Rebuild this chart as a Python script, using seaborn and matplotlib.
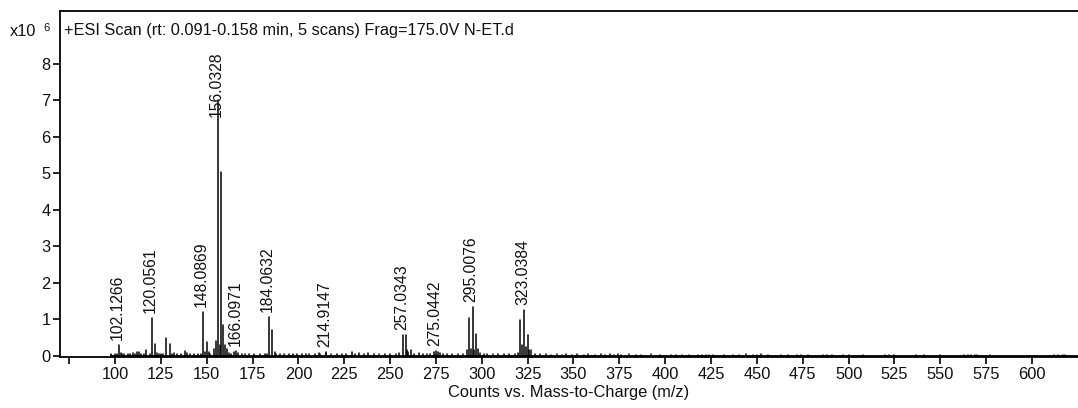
import numpy as np
import pandas as pd
import matplotlib
matplotlib.use("Agg")
import matplotlib.pyplot as plt
import seaborn as sns

# ---------------- data (intensity in x10^6 counts) ----------------
label_mz = [102.1266, 120.0561, 148.0869, 156.0328, 166.0971, 184.0632,
            214.9147, 257.0343, 275.0442, 295.0076, 323.0384]
label_h = [0.29, 1.03, 1.19, 7.00, 0.13, 1.07, 0.12, 0.58, 0.13, 1.35, 1.26]
label_text = ["102.1266", "120.0561", "148.0869", "156.0328", "166.0971",
              "184.0632", "214.9147", "257.0343", "275.0442", "295.0076",
              "323.0384"]

major_mz = [121.6, 128.0, 130.0, 150.0, 155.0, 157.0, 157.9, 159.0, 160.0,
            185.5, 258.5, 261.5, 276.3, 293.0, 297.0, 321.0, 325.0, 327.0]
major_h = [0.33, 0.50, 0.33, 0.37, 0.42, 0.30, 5.05, 0.85, 0.30,
           0.70, 0.58, 0.16, 0.12, 1.03, 0.61, 0.98, 0.57, 0.15]

noise_mz = [98, 100, 101, 103, 104, 105, 107, 108, 110, 111, 112, 113, 114,
            116, 117, 119, 123, 124, 125, 126, 131, 132, 134, 136, 138, 139,
            141, 143, 145, 147, 149, 151, 152, 154, 161, 162, 163, 165, 167,
            169, 171, 173, 176, 179, 182, 183, 187, 188, 190, 192, 195, 197,
            199, 202, 204, 206, 209, 211, 212, 215, 218, 221, 224, 226, 229,
            231, 233, 236, 238, 241, 244, 247, 250, 253, 255, 259, 260, 263,
            266, 268, 270, 272, 274, 277, 279, 281, 284, 287, 290, 292, 294,
            296, 298, 299, 301, 303, 306, 309, 312, 315, 318, 320, 322, 324,
            326, 329, 332, 335, 338, 341, 344, 346, 349, 352, 356, 358, 362,
            365, 367, 370, 372, 374, 376, 380, 384, 387, 392, 397, 403, 406,
            409, 413, 418, 420, 422, 424, 426, 432, 437, 440, 444, 448, 450,
            452, 456, 463, 467, 472, 474, 478, 486, 488, 491, 497, 500, 508,
            520, 522, 525, 537, 541, 550, 563, 565, 567, 569, 570, 577, 612,
            614, 617, 618]
noise_h = [0.04, 0.05, 0.06, 0.08, 0.05, 0.06, 0.04, 0.05, 0.07, 0.05, 0.12,
           0.10, 0.05, 0.05, 0.15, 0.05, 0.07, 0.05, 0.04, 0.05, 0.06, 0.07,
           0.04, 0.05, 0.14, 0.08, 0.04, 0.05, 0.04, 0.05, 0.10, 0.10, 0.05,
           0.20, 0.20, 0.08, 0.06, 0.10, 0.08, 0.05, 0.04, 0.06, 0.04, 0.04,
           0.05, 0.04, 0.10, 0.05, 0.06, 0.04, 0.05, 0.04, 0.06, 0.04, 0.04,
           0.04, 0.04, 0.07, 0.05, 0.08, 0.04, 0.05, 0.04, 0.04, 0.10, 0.06,
           0.08, 0.05, 0.07, 0.05, 0.04, 0.05, 0.04, 0.05, 0.07, 0.15, 0.10,
           0.05, 0.07, 0.06, 0.05, 0.04, 0.10, 0.08, 0.05, 0.04, 0.05, 0.04,
           0.05, 0.15, 0.20, 0.15, 0.20, 0.08, 0.05, 0.04, 0.05, 0.04, 0.05,
           0.04, 0.06, 0.08, 0.30, 0.25, 0.15, 0.05, 0.04, 0.04, 0.03, 0.04,
           0.03, 0.04, 0.03, 0.04, 0.03, 0.04, 0.03, 0.04, 0.03, 0.04, 0.03,
           0.04, 0.03, 0.04, 0.03, 0.03, 0.04, 0.03, 0.03, 0.03, 0.03, 0.03,
           0.03, 0.03, 0.03, 0.03, 0.03, 0.03, 0.03, 0.03, 0.04, 0.03, 0.03,
           0.04, 0.03, 0.03, 0.03, 0.03, 0.03, 0.03, 0.03, 0.03, 0.03, 0.03,
           0.03, 0.03, 0.03, 0.03, 0.03, 0.03, 0.03, 0.03, 0.03, 0.03, 0.03,
           0.03, 0.03, 0.03, 0.03, 0.03, 0.03, 0.03]

x_ticks = [75, 100, 125, 150, 175, 200, 225, 250, 275, 300, 325, 350, 375,
           400, 425, 450, 475, 500, 525, 550, 575, 600]
x_tick_labels = [""] + [str(t) for t in x_ticks[1:]]
y_ticks = [0, 1, 2, 3, 4, 5, 6, 7, 8]

title = "+ESI Scan (rt: 0.091-0.158 min, 5 scans) Frag=175.0V N-ET.d"
x_label = "Counts vs. Mass-to-Charge (m/z)"

# ---------------- build long-form stick data ----------------
all_mz = list(noise_mz) + list(major_mz) + list(label_mz)
all_h = list(noise_h) + list(major_h) + list(label_h)
rows = []
for i, (m, h) in enumerate(zip(all_mz, all_h)):
    rows.append({"peak": i, "mz": m, "y": 0.0})
    rows.append({"peak": i, "mz": m, "y": h})
df = pd.DataFrame(rows)

# ---------------- figure ----------------
sns.set_theme(style="ticks")
plt.rcParams["font.family"] = ["Liberation Sans", "DejaVu Sans"]
TXT = "#111111"
FS = 11.8
FS_LAB = 11.3

fig = plt.figure(figsize=(10.78, 4.08), dpi=100)
ax = fig.add_axes([60 / 1078, 1 - 357 / 408, 1 - 60 / 1078, 346 / 408])

sns.lineplot(data=df, x="mz", y="y", units="peak", estimator=None,
             sort=False, color="black", linewidth=1.1, ax=ax, legend=False)
# thick baseline of the spectrum
ax.plot([97, 625], [0, 0], color="black", lw=1.3, solid_capstyle="butt")

ymin, ymax = -0.03, 9.45
ax.set_xlim(70.0, 625.1)
ax.set_ylim(ymin, ymax)

ax.set_xticks(x_ticks)
ax.set_xticklabels(x_tick_labels)
ax.set_yticks(y_ticks)
ax.set_yticklabels([str(t) for t in y_ticks])
ax.tick_params(axis="both", direction="out", length=5, width=1.2,
               color="black", labelsize=FS, labelcolor=TXT, pad=2)
ax.set_xlabel(x_label, fontsize=FS, color=TXT, labelpad=2)
ax.set_ylabel("")

for s in ["left", "top", "bottom"]:
    ax.spines[s].set_color("black")
    ax.spines[s].set_linewidth(1.3)
ax.spines["right"].set_visible(False)

# peak labels
px_per_unit = 346 / (ymax - ymin)
label_len = 65 / px_per_unit      # data units occupied by a rotated label
top_lim = ymax - 41 / px_per_unit  # keep labels below the title line
for m, h, t in zip(label_mz, label_h, label_text):
    base = h + 5 / px_per_unit
    base = min(base, top_lim - label_len)
    ax.text(m - 0.8, base, t, rotation=90, ha="center", va="bottom",
            fontsize=FS_LAB, color=TXT, transform=ax.transData)

ax.text(4 / 1018, 1 - 20 / 346, title, transform=ax.transAxes,
        ha="left", va="center", fontsize=FS, color=TXT)

fig.text(10 / 1078, 1 - 32 / 408, "x10", ha="left", va="center",
         fontsize=FS, color=TXT)
fig.text(43 / 1078, 1 - 28 / 408, "6", ha="left", va="center",
         fontsize=8, color=TXT)

fig.savefig("out.png", dpi=100)
